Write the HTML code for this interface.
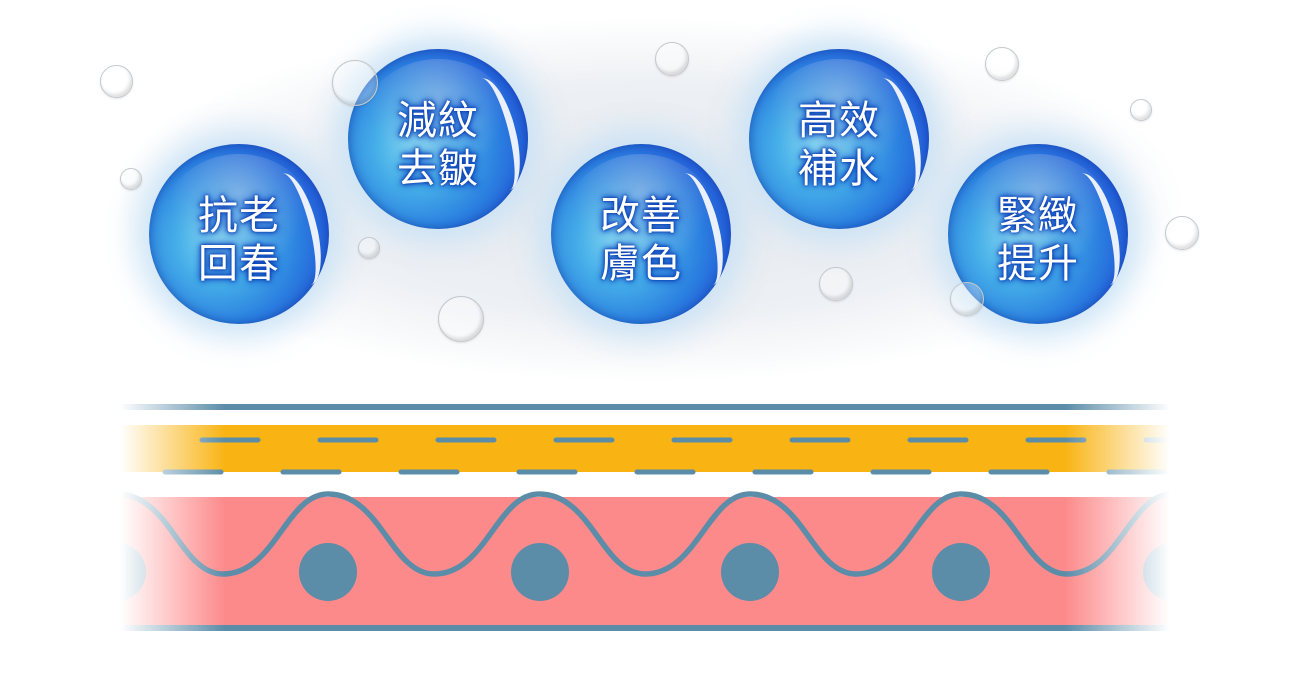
<!DOCTYPE html>
<html><head><meta charset="utf-8"><style>
html,body{margin:0;padding:0;background:#fff;}
body{width:1300px;height:679px;position:relative;overflow:hidden;font-family:"Liberation Sans","Noto Sans CJK TC",sans-serif;}
.haze{position:absolute;left:120px;top:20px;width:1060px;height:360px;border-radius:50%;background:radial-gradient(ellipse at center,#e4e9ef 0%,#edf0f4 45%,rgba(255,255,255,0) 72%);}
.b{position:absolute;width:180px;height:180px;border-radius:50%;
background:radial-gradient(circle at 38% 55%,#7ad8f2 0%,#45ade8 28%,#2b80e0 55%,#2358d8 78%,#0b3a9c 100%);
box-shadow:0 0 30px 14px rgba(200,225,245,0.9),inset 0 0 10px rgba(10,50,150,0.6);}
.b::before{content:"";position:absolute;right:12px;top:28px;width:34px;height:115px;border-radius:50%;border-right:7px solid rgba(255,255,255,0.9);transform:rotate(-14deg);z-index:1;}
.b::after{content:"";position:absolute;left:15px;top:10px;right:15px;bottom:40px;border-radius:50%;background:radial-gradient(ellipse at 50% 30%,rgba(200,200,230,0.45),rgba(255,255,255,0) 65%);}
.t{position:absolute;left:0;top:48px;width:180px;text-align:center;color:#fff;font-size:40px;line-height:48px;letter-spacing:1px;z-index:2;
text-shadow:0 0 2px #0a3fb0,0 0 4px #0a3fb0,0 0 7px #1450c8,0 0 9px #1450c8;}
.s{position:absolute;border-radius:50%;border:1.5px solid #c4c9ce;box-shadow:inset -2px -3px 3px rgba(0,0,0,0.12),0 1px 2px rgba(0,0,0,0.1);background:rgba(255,255,255,0.3);}
</style></head><body>
<div class="haze"></div>
<div class="b" style="left:149px;top:144px"><div class="t">抗老<br>回春</div></div>
<div class="b" style="left:348px;top:49px"><div class="t">減紋<br>去皺</div></div>
<div class="b" style="left:551px;top:144px"><div class="t">改善<br>膚色</div></div>
<div class="b" style="left:749px;top:49px"><div class="t">高效<br>補水</div></div>
<div class="b" style="left:948px;top:144px"><div class="t">緊緻<br>提升</div></div>

<div class="s" style="left:100px;top:65px;width:31px;height:31px"></div>
<div class="s" style="left:120px;top:168px;width:20px;height:20px"></div>
<div class="s" style="left:332px;top:60px;width:44px;height:44px"></div>
<div class="s" style="left:358px;top:237px;width:20px;height:20px"></div>
<div class="s" style="left:438px;top:296px;width:44px;height:44px"></div>
<div class="s" style="left:655px;top:42px;width:32px;height:32px"></div>
<div class="s" style="left:819px;top:267px;width:32px;height:32px"></div>
<div class="s" style="left:985px;top:47px;width:32px;height:32px"></div>
<div class="s" style="left:1130px;top:99px;width:20px;height:20px"></div>
<div class="s" style="left:1165px;top:216px;width:32px;height:32px"></div>
<div class="s" style="left:950px;top:282px;width:32px;height:32px"></div>

<svg width="1300" height="679" style="position:absolute;left:0;top:0" xmlns="http://www.w3.org/2000/svg">
<defs>
<linearGradient id="fg" x1="120" x2="1170" y1="0" y2="0" gradientUnits="userSpaceOnUse">
<stop offset="0" stop-color="#fff" stop-opacity="0"/>
<stop offset="0.1" stop-color="#fff" stop-opacity="1"/>
<stop offset="0.9" stop-color="#fff" stop-opacity="1"/>
<stop offset="1" stop-color="#fff" stop-opacity="0"/>
</linearGradient>
<mask id="m" maskUnits="userSpaceOnUse" x="0" y="0" width="1300" height="679"><rect x="120" y="380" width="1050" height="280" fill="url(#fg)"/></mask>
</defs>
<g mask="url(#m)">
<rect x="120" y="404" width="1050" height="6" fill="#5b8ca8"/>
<rect x="120" y="425" width="1050" height="47" fill="#f9b414"/>
<g stroke="#5b8ca8" stroke-width="5" stroke-linecap="round">
<path d="M202 440h56M320 440h56M438 440h56M556 440h56M674 440h56M792 440h56M910 440h56M1028 440h56M1146 440h56"/>
<path d="M165 472h56M283 472h56M401 472h56M519 472h56M637 472h56M755 472h56M873 472h56M991 472h56M1109 472h56"/>
</g>
<rect x="120" y="497" width="1050" height="130" fill="#fd8a8b"/>
<rect x="120" y="625" width="1050" height="6" fill="#5b8ca8"/>
<path d="M 117 494 C 170 494 180 574 223 574 C 275 574 286 494 328 494 C 381 494 391 574 434 574 C 486 574 497 494 539 494 C 592 494 602 574 645 574 C 697 574 708 494 750 494 C 803 494 813 574 856 574 C 908 574 919 494 961 494 C 1014 494 1024 574 1067 574 C 1119 574 1130 494 1172 494" fill="none" stroke="#5b8ca8" stroke-width="5.5"/>
<g fill="#5b8ca8">
<circle cx="117" cy="572" r="29"/><circle cx="328" cy="572" r="29"/><circle cx="540" cy="572" r="29"/><circle cx="750" cy="572" r="29"/><circle cx="961" cy="572" r="29"/><circle cx="1172" cy="572" r="29"/>
</g>
</g>
</svg>
</body></html>
